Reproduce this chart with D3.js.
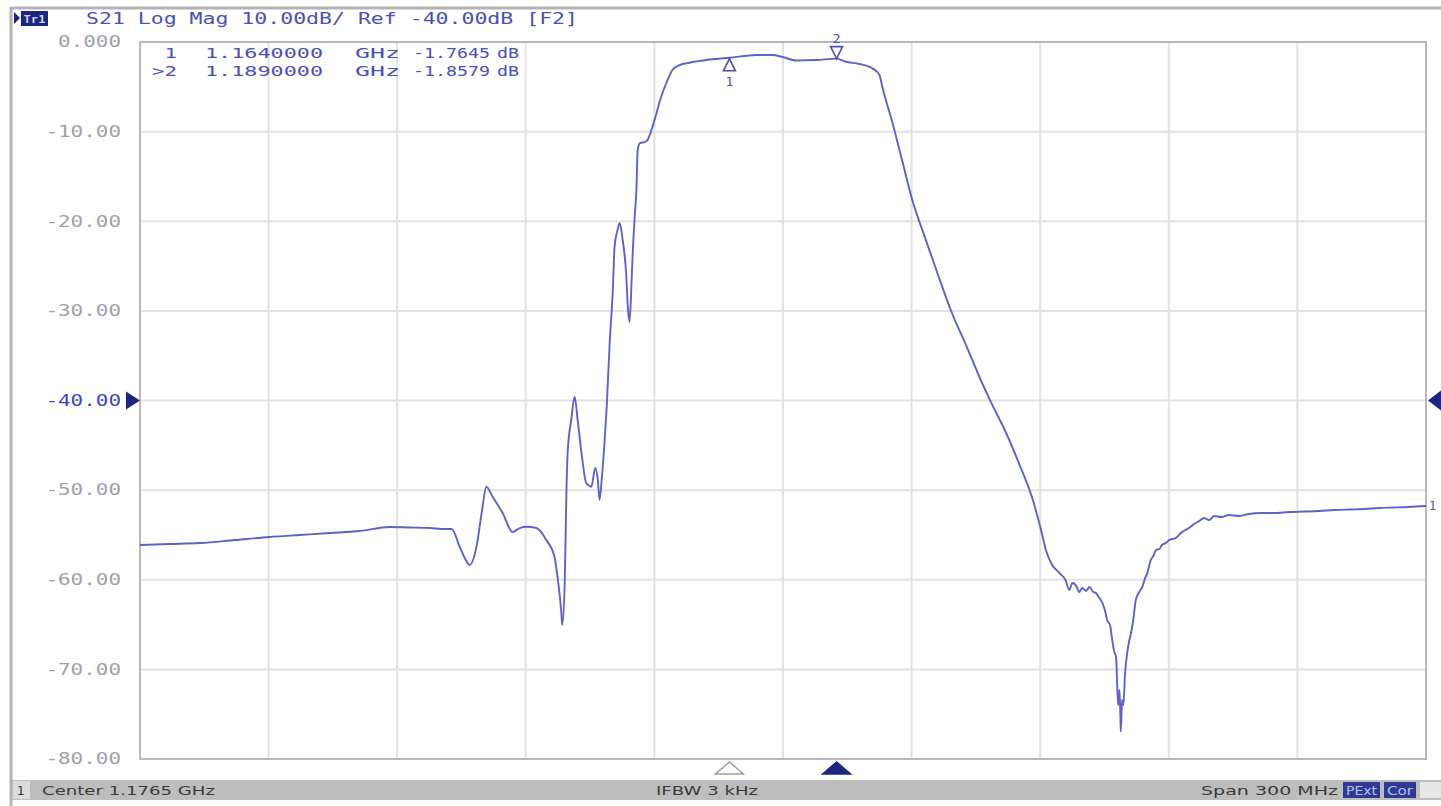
<!DOCTYPE html>
<html><head><meta charset="utf-8">
<script src="https://cdn.jsdelivr.net/npm/d3@7"></script>
<style>html,body{margin:0;padding:0;background:#fff;overflow:hidden}</style>
</head><body><svg id="c" width="1441" height="806"></svg>
<script>
// ---- data ----
const centerMHz = 1176.5;
const spanMHz = 300;
const freqMHz = [1026.5,1033.5,1040.5,1048.6,1056.8,1063.8,1070.8,1077.8,1084.8,1089.4,1094.1,1097.6,1099.2,1101.1,1102.5,1103.4,1105.0,1106.2,1107.3,1108.8,1111.1,1113.4,1115.1,1116.6,1119.0,1121.3,1123.2,1123.9,1124.8,1125.0,1125.6,1126.0,1126.3,1127.1,1127.9,1128.6,1129.5,1130.6,1131.8,1132.7,1133.3,1133.7,1134.2,1134.9,1135.4,1136.1,1136.5,1136.8,1137.2,1137.9,1138.4,1139.1,1139.9,1140.3,1140.7,1141.1,1141.4,1141.9,1142.3,1142.6,1143.1,1144.2,1144.9,1145.8,1147.0,1147.7,1149.3,1150.7,1152.4,1154.7,1158.6,1164.0,1170.3,1174.1,1176.4,1179.6,1184.2,1189.0,1191.2,1194.3,1197.4,1199.0,1199.7,1202.0,1204.3,1206.6,1209.9,1213.0,1216.0,1219.2,1222.3,1225.3,1228.5,1231.6,1234.7,1236.7,1237.9,1239.3,1241.0,1242.4,1243.3,1244.0,1244.8,1245.6,1246.3,1247.2,1248.0,1248.9,1249.5,1250.3,1251.0,1251.7,1252.1,1252.8,1253.3,1253.8,1254.2,1254.5,1254.7,1255.0,1255.2,1255.3,1255.6,1255.9,1256.3,1256.8,1257.3,1257.7,1258.2,1258.8,1259.6,1260.3,1261.0,1261.5,1261.9,1262.3,1262.9,1263.5,1264.3,1264.9,1265.8,1266.6,1268.1,1269.6,1271.2,1272.4,1273.6,1274.7,1275.9,1277.1,1278.7,1280.5,1282.9,1285.2,1288.0,1291.1,1294.6,1298.1,1301.6,1305.1,1308.6,1312.1,1315.5,1319.0,1322.5,1326.5];
const s21dB = [-56.12,-56.01,-55.90,-55.57,-55.23,-55.01,-54.79,-54.56,-54.11,-54.17,-54.23,-54.34,-54.34,-56.35,-57.80,-58.35,-56.31,-52.55,-49.62,-50.77,-52.55,-54.67,-54.23,-54.08,-54.23,-55.57,-57.46,-59.69,-63.71,-65.05,-60.03,-49.62,-45.52,-42.18,-39.58,-42.18,-45.86,-49.21,-49.62,-47.53,-48.87,-51.10,-48.87,-44.41,-40.50,-33.25,-30.24,-27.67,-22.87,-20.98,-20.20,-22.09,-25.77,-29.57,-31.24,-27.67,-23.99,-19.53,-16.51,-12.05,-11.27,-11.16,-10.93,-9.82,-7.92,-6.69,-4.57,-3.12,-2.57,-2.31,-2.01,-1.7645,-1.45,-1.45,-1.67,-2.06,-2.01,-1.8579,-2.20,-2.45,-2.96,-3.68,-5.07,-8.96,-13.23,-17.52,-22.19,-26.44,-30.35,-33.81,-37.35,-40.46,-43.57,-47.07,-50.97,-54.45,-56.79,-58.35,-59.25,-60.03,-61.14,-60.36,-60.59,-61.37,-60.92,-61.25,-60.81,-61.37,-61.48,-62.04,-62.59,-63.60,-64.49,-65.05,-66.72,-68.06,-68.62,-72.30,-73.98,-72.30,-75.09,-76.95,-73.42,-73.98,-70.40,-68.17,-66.72,-65.94,-64.49,-62.26,-61.37,-60.81,-59.80,-59.25,-58.47,-57.80,-57.35,-56.68,-56.57,-56.12,-55.90,-55.57,-55.34,-54.67,-54.23,-53.78,-53.45,-53.11,-53.34,-52.89,-53.00,-52.78,-52.89,-52.66,-52.55,-52.55,-52.44,-52.39,-52.33,-52.22,-52.16,-52.11,-51.99,-51.94,-51.88,-51.77];
const yTicks = [0,-10,-20,-30,-40,-50,-60,-70,-80];
const yTickLabels = ["0.000","-10.00","-20.00","-30.00","-40.00","-50.00","-60.00","-70.00","-80.00"];
const refLevel = -40;
const xGridMHz = [1056.5,1086.5,1116.5,1146.5,1176.5,1206.5,1236.5,1266.5,1296.5];
const markerIds = ["1","2"];
const markerFreqMHz = [1164.0,1189.0];
const markerDB = [-1.7645,-1.8579];
const activeMarker = 1;
const headerText = "S21 Log Mag 10.00dB/ Ref -40.00dB [F2]";
const statusCenter = "Center 1.1765 GHz";
const statusIFBW = "IFBW 3 kHz";
const statusSpan = "Span 300 MHz";

// ---- drawing ----
const svg = d3.select("#c");
const L=140, R=1426, T=42, B=759;
const x = d3.scaleLinear().domain([centerMHz-spanMHz/2, centerMHz+spanMHz/2]).range([L,R]);
const y = d3.scaleLinear().domain([0,-80]).range([T,B]);
const BLUE="#4b4fb8", NAVY="#1c2580", TRACE="#5d62c6";
const MONO="'DejaVu Sans Mono', 'Liberation Mono', monospace";
const SANS="'DejaVu Sans', 'Liberation Sans', sans-serif";

function txt(g, s, x0, yb, len, opts={}) {
  const t = g.append("text").attr("x",x0).attr("y",yb).text(s)
    .attr("font-family",opts.font||MONO).attr("font-size",opts.size||14)
    .attr("fill",opts.fill||BLUE);
  if (len) t.attr("textLength",len).attr("lengthAdjust","spacingAndGlyphs");
  if (opts.anchor) t.attr("text-anchor",opts.anchor);
  if (opts.weight) t.attr("font-weight",opts.weight);
  return t;
}

// window frame
svg.append("rect").attr("x",0).attr("y",0).attr("width",1441).attr("height",806).attr("fill","#fff");
svg.append("line").attr("x1",11).attr("x2",1441).attr("y1",8).attr("y2",8).attr("stroke","#b4b4b4").attr("stroke-width",3);
svg.append("line").attr("x1",11).attr("x2",11).attr("y1",7).attr("y2",806).attr("stroke","#b4b4b4").attr("stroke-width",3);

// header
svg.append("path").attr("d","M14,12 L14,24 L20,18 Z").attr("fill",NAVY);
svg.append("rect").attr("x",21).attr("y",11).attr("width",27).attr("height",15).attr("fill",NAVY);
txt(svg,"Tr1",34.5,23,22,{size:11,fill:"#d0d4f4",anchor:"middle",weight:"bold"});
txt(svg,headerText,86,24,492,{size:15});

// grid
const g = svg.append("g");
g.selectAll(".vg").data(xGridMHz).join("line").attr("x1",d=>x(d)).attr("x2",d=>x(d))
  .attr("y1",T).attr("y2",B).attr("stroke","#e2e2e2").attr("stroke-width",2);
g.selectAll(".hg").data(yTicks.slice(1,-1)).join("line").attr("y1",d=>y(d)).attr("y2",d=>y(d))
  .attr("x1",L).attr("x2",R).attr("stroke","#e2e2e2").attr("stroke-width",2);
g.append("rect").attr("x",L).attr("y",T).attr("width",R-L).attr("height",B-T)
  .attr("fill","none").attr("stroke","#b8b8b8").attr("stroke-width",2);

// y axis labels
const ax = svg.append("g").attr("transform",`translate(${L},0)`)
  .call(d3.axisLeft(y).tickValues(yTicks).tickFormat((d,i)=>yTickLabels[i]).tickSize(0).tickPadding(19));
ax.select(".domain").remove();
ax.selectAll("text").attr("font-family",MONO).attr("font-size",15)
  .attr("fill",d=>d===refLevel?"#4245c2":"#a0a0ac")
  .attr("textLength",(d,i)=>yTickLabels[i].length*12.6).attr("lengthAdjust","spacingAndGlyphs");

// reference triangles
svg.append("path").attr("d",`M126,${y(refLevel)-9} L126,${y(refLevel)+9} L140,${y(refLevel)} Z`).attr("fill",NAVY);
svg.append("path").attr("d",`M1441,${y(refLevel)-10} L1441,${y(refLevel)+10} L1428,${y(refLevel)} Z`).attr("fill",NAVY);

// marker readout
markerIds.forEach((id,i)=>{
  const yb = 58 + i*18;
  const lab = (i===activeMarker?">":"") + id;
  txt(svg,lab,177,yb,lab.length*12.5,{size:14,anchor:"end"});
  txt(svg,(markerFreqMHz[i]/1000).toFixed(7),205,yb,118,{size:14});
  txt(svg,"GHz",355,yb,45,{size:14});
  txt(svg,markerDB[i].toFixed(4),413,yb,77,{size:14});
  txt(svg,"dB",497,yb,22,{size:14});
});

// trace
const n = Math.min(freqMHz.length, s21dB.length);
const pts = d3.range(n).map(i=>[freqMHz[i], s21dB[i]]);
svg.append("path").datum(pts)
  .attr("d", d3.line().curve(d3.curveMonotoneX).x(d=>x(d[0])).y(d=>y(d[1])))
  .attr("fill","none").attr("stroke",TRACE).attr("stroke-width",1.9).attr("stroke-linejoin","round");
txt(svg,"1",1429,y(s21dB[n-1])+4,null,{size:12});

// markers on trace
markerIds.forEach((id,i)=>{
  const mx = x(markerFreqMHz[i]), my = y(markerDB[i]);
  if (i===activeMarker) {
    svg.append("path").attr("d",`M${mx},${my} L${mx-6},${my-12} L${mx+6},${my-12} Z`)
      .attr("fill","none").attr("stroke",BLUE).attr("stroke-width",1.6);
    txt(svg,id,mx,my-16,null,{size:13,anchor:"middle"});
  } else {
    svg.append("path").attr("d",`M${mx},${my+1} L${mx-6},${my+13} L${mx+6},${my+13} Z`)
      .attr("fill","none").attr("stroke",BLUE).attr("stroke-width",1.6);
    txt(svg,id,mx,my+28,null,{size:13,anchor:"middle"});
  }
  // bottom position indicators
  const by = 762;
  svg.append("path").attr("d",`M${mx},${by} L${mx-14},${by+12} L${mx+14},${by+12} Z`)
    .attr("fill",i===activeMarker?NAVY:"#fff").attr("stroke",i===activeMarker?NAVY:"#9a9ab0").attr("stroke-width",1.5);
});

// status bar
svg.append("rect").attr("x",12).attr("y",780).attr("width",1429).attr("height",20).attr("fill","#bdbdbd");
svg.append("rect").attr("x",13).attr("y",781).attr("width",17).attr("height",18).attr("fill","#dcdcdc");
txt(svg,"1",17,795,null,{font:SANS,size:12,fill:"#333"});
txt(svg,statusCenter,42,795,173,{font:SANS,size:13,fill:"#3a3a3a"});
txt(svg,statusIFBW,656,795,102,{font:SANS,size:13,fill:"#3a3a3a"});
txt(svg,statusSpan,1201,795,137,{font:SANS,size:13,fill:"#3a3a3a"});
svg.append("rect").attr("x",1343).attr("y",782).attr("width",37).attr("height",16).attr("fill","#2c3a96");
txt(svg,"PExt",1346,795,31,{font:SANS,size:12,fill:"#b8c0ee"});
svg.append("rect").attr("x",1384).attr("y",782).attr("width",32).attr("height",16).attr("fill","#2c3a96");
txt(svg,"Cor",1387,795,26,{font:SANS,size:12,fill:"#b8c0ee"});
svg.append("rect").attr("x",1420).attr("y",782).attr("width",21).attr("height",16).attr("fill","#e6e6e6");
</script></body></html>
